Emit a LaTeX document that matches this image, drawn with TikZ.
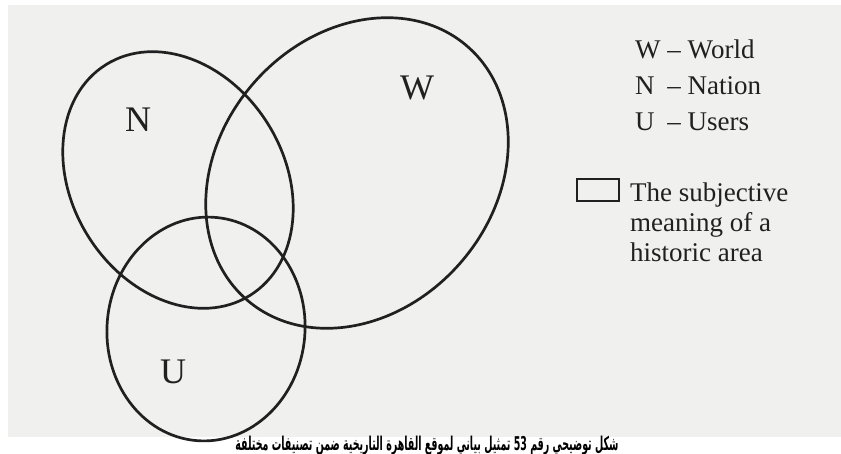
\documentclass[tikz,border=0pt]{standalone}
\usepackage{fontspec}
\setmainfont{Liberation Serif}
\newfontfamily\arabicfont[Script=Arabic, FakeStretch=0.5]{DejaVu Sans Bold}
\TeXXeTstate=1
\usepackage{xcolor}
\usepackage{tikz}
\usetikzlibrary{positioning}
\definecolor{paper}{RGB}{240,240,239}
\definecolor{ink}{RGB}{32,32,32}

\begin{document}
\begin{tikzpicture}[x=1pt, y=-1pt,
  ring/.style={ink, line width=2.7pt},
  setlabel/.style={ink, font=\fontsize{36}{40}\selectfont},
  keyline/.style={ink, font=\fontsize{27}{30}\selectfont, anchor=base west, inner sep=0pt},
  keybox/.style={draw=ink, line width=2.3pt, minimum width=42, minimum height=22, inner sep=0pt}]
  % Page and scanned paper
  \useasboundingbox (0,0) rectangle (841,453);
  \clip (0,0) rectangle (841,453);
  \fill[white] (0,0) rectangle (841,453);
  \fill[paper] (8,5) rectangle (841,437);

  % Sets
  \draw[ring, rotate around={-58:(178,180)}] (178,180) ellipse [x radius=136, y radius=106];
  \draw[ring, rotate around={48.75:(357,173)}] (357,173) ellipse [x radius=168, y radius=137];
  \draw[ring, rotate around={-5:(206,329)}] (206,329) ellipse [x radius=99, y radius=112];

  \node[setlabel] (labN) at (138,120) {N};
  \node[setlabel] (labW) at (417,88) {W};
  \node[setlabel] (labU) at (173,372) {U};

  % Legend
  \node[keyline] (keyW) at (635,58) {W -- World};
  \node[keyline] (keyN) at (635,94) {\rlap{N}\phantom{W} -- Nation};
  \node[keyline] (keyU) at (635,130) {\rlap{U}\phantom{W} -- Users};

  \node[keybox] (keyBox) at (598,190) {};
  \node[keyline] (keyA) at (630,201) {The subjective};
  \node[keyline] (keyB) at (630,231) {meaning of a};
  \node[keyline] (keyC) at (630,261) {historic area};

  % Caption
  \node[anchor=base, inner sep=0pt, font=\arabicfont\fontsize{19}{22}\selectfont] (caption) at (427,450)
    {\beginR شكل توضيحي رقم \beginL 53\endL{} تمثيل بياني لموقع القاهرة التاريخية ضمن تصنيفات مختلفة\endR};
\end{tikzpicture}
\end{document}
